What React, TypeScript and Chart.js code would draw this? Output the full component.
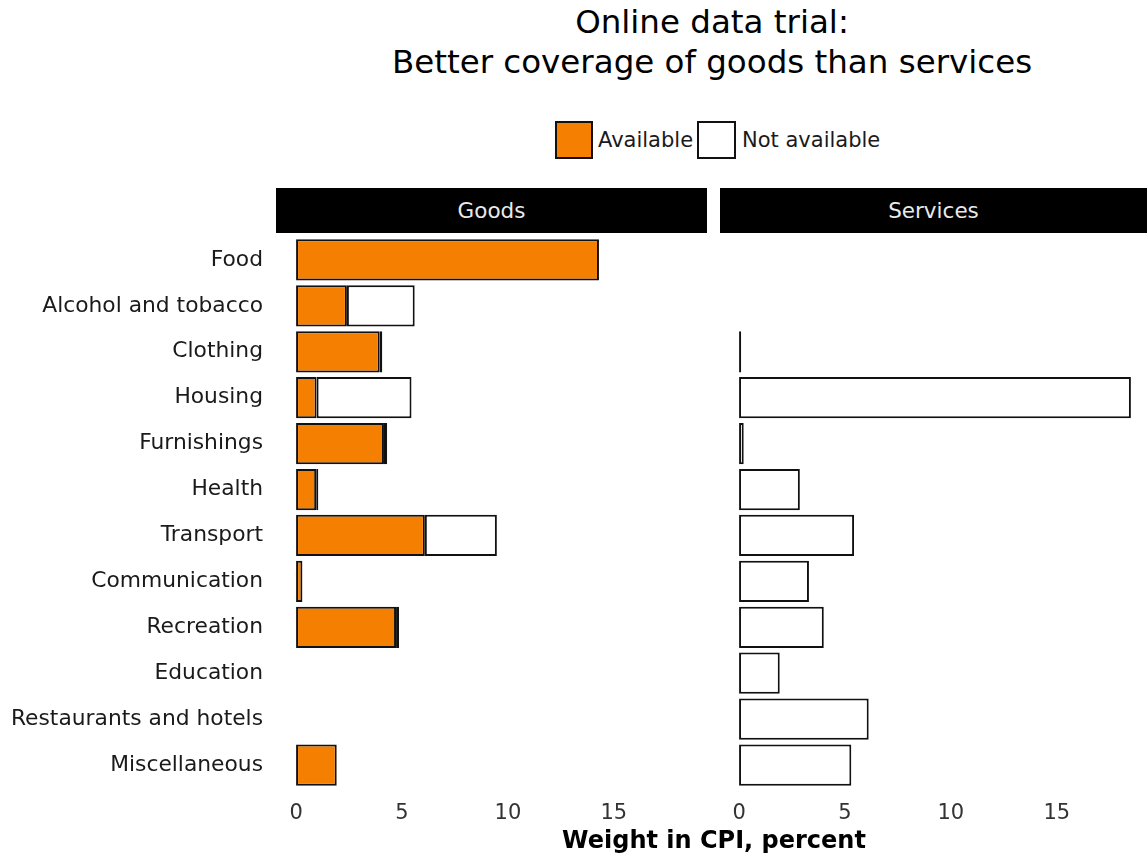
import React, { useEffect, useRef } from "react";
import { Chart, registerables } from "chart.js";

Chart.register(...registerables);

const categories = [
  "Food",
  "Alcohol and tobacco",
  "Clothing",
  "Housing",
  "Furnishings",
  "Health",
  "Transport",
  "Communication",
  "Recreation",
  "Education",
  "Restaurants and hotels",
  "Miscellaneous",
];

const goodsAvailable = [14.3, 2.4, 3.95, 0.97, 4.15, 0.95, 6.08, 0.3, 4.72, null, null, 1.92];
const goodsNotAvailable = [null, 3.2, 0.12, 4.48, 0.15, 0.1, 3.4, null, 0.14, null, null, null];
const servicesAvailable = [null, null, null, null, null, null, null, null, null, null, null, null];
const servicesNotAvailable = [null, null, 0.1, 18.5, 0.22, 2.87, 5.43, 3.3, 4.0, 1.92, 6.12, 5.3];

const xTicks = [0, 5, 10, 15];
const seriesNames = ["Available", "Not available"];
const panelNames = ["Goods", "Services"];

const ORANGE = "#f57f00";
const FONT = "'DejaVu Sans', sans-serif";

const AREA_H = 551;
const AXIS_H = 45;

function makeConfig(available: (number | null)[], notAvailable: (number | null)[], showY: boolean, xMax: number): any {
  return {
    type: "bar",
    data: {
      labels: categories,
      datasets: [
        {
          label: seriesNames[0],
          data: available,
          backgroundColor: ORANGE,
          borderColor: "#111",
          borderWidth: 2,
          borderSkipped: false,
          categoryPercentage: 1,
          barPercentage: 0.9,
        },
        {
          label: seriesNames[1],
          data: notAvailable,
          backgroundColor: "#ffffff",
          borderColor: "#111",
          borderWidth: 2,
          borderSkipped: false,
          categoryPercentage: 1,
          barPercentage: 0.9,
        },
      ],
    },
    options: {
      indexAxis: "y",
      animation: false,
      responsive: false,
      maintainAspectRatio: false,
      layout: { padding: 0 },
      plugins: { legend: { display: false }, title: { display: false }, tooltip: { enabled: false } },
      scales: {
        x: {
          stacked: true,
          min: -0.9,
          max: xMax,
          grid: { display: false, drawTicks: false },
          border: { display: false },
          afterBuildTicks: (scale: any) => {
            scale.ticks = xTicks.map((v) => ({ value: v }));
          },
          afterFit: (scale: any) => {
            scale.height = AXIS_H;
            scale.paddingLeft = 0;
            scale.paddingRight = 0;
          },
          ticks: {
            autoSkip: false,
            maxRotation: 0,
            padding: 13,
            color: "#333333",
            font: { family: FONT, size: 21 },
            callback: (v: any) => String(v),
          },
        },
        y: {
          stacked: true,
          display: showY,
          grid: { display: false, drawTicks: false },
          border: { display: false },
          afterFit: (scale: any) => {
            scale.width = showY ? 277 : 0;
            scale.paddingTop = 0;
            scale.paddingBottom = 0;
          },
          ticks: {
            autoSkip: false,
            padding: 14,
            color: "#1a1a1a",
            font: { family: FONT, size: 21.8 },
          },
        },
      },
    },
  };
}

function Panel(props: { available: (number | null)[]; notAvailable: (number | null)[]; showY: boolean; width: number; xMax: number; left: number }) {
  const ref = useRef<HTMLCanvasElement | null>(null);
  useEffect(() => {
    if (!ref.current) return;
    const chart = new Chart(ref.current, makeConfig(props.available, props.notAvailable, props.showY, props.xMax));
    return () => chart.destroy();
  }, []);
  const h = AREA_H + AXIS_H;
  return (
    <canvas
      ref={ref}
      width={props.width}
      height={h}
      style={{ position: "absolute", left: props.left, top: 237, width: props.width, height: h }}
    />
  );
}

export default function App() {
  const text: React.CSSProperties = { position: "absolute", fontFamily: FONT, whiteSpace: "nowrap" };
  return (
    <div style={{ position: "fixed", left: 0, top: 0, width: 1147, height: 856, background: "#fff", overflow: "hidden" }}>
      <div style={{ ...text, left: 312, width: 800, top: 2, textAlign: "center", fontSize: 32.5, lineHeight: "40px", color: "#000" }}>
        Online data trial:
        <br />
        Better coverage of goods than services
      </div>
      <div style={{ ...text, left: 555, top: 121, width: 34, height: 34, background: ORANGE, border: "2px solid #111" }} />
      <div style={{ ...text, left: 598, top: 121, height: 38, lineHeight: "38px", fontSize: 21, color: "#1a1a1a" }}>{seriesNames[0]}</div>
      <div style={{ ...text, left: 697, top: 121, width: 35, height: 34, background: "#fff", border: "2px solid #111" }} />
      <div style={{ ...text, left: 742, top: 121, height: 38, lineHeight: "38px", fontSize: 21, color: "#1a1a1a" }}>{seriesNames[1]}</div>
      <div style={{ ...text, left: 276, top: 188, width: 431, height: 45, background: "#000", color: "#eaeaea", fontSize: 21.5, lineHeight: "45px", textAlign: "center" }}>
        {panelNames[0]}
      </div>
      <div style={{ ...text, left: 720, top: 188, width: 427, height: 45, background: "#000", color: "#eaeaea", fontSize: 21.5, lineHeight: "45px", textAlign: "center" }}>
        {panelNames[1]}
      </div>
      <Panel available={goodsAvailable} notAvailable={goodsNotAvailable} showY={true} width={707} xMax={19.4} left={0} />
      <Panel available={servicesAvailable} notAvailable={servicesNotAvailable} showY={false} width={427} xMax={19.26} left={720} />
      <div style={{ ...text, left: 414, width: 600, top: 824, textAlign: "center", fontSize: 24, fontWeight: "bold", color: "#000", lineHeight: "32px" }}>
        Weight in CPI, percent
      </div>
    </div>
  );
}
